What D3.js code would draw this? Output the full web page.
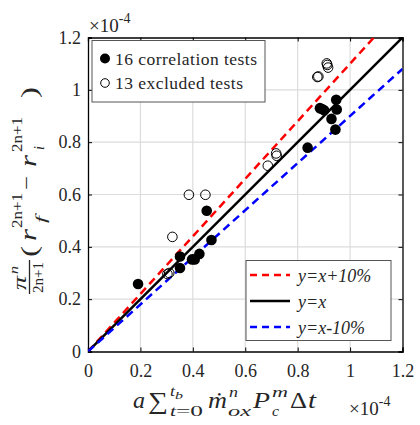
<!DOCTYPE html>
<html>
<head>
<meta charset="utf-8">
<script src="https://cdn.jsdelivr.net/npm/d3@7"></script>
<style>
  body { margin: 0; background: #fff; }
  svg text { font-family: "Liberation Serif", "DejaVu Serif", serif; }
</style>
</head>
<body>
<svg id="chart" width="420" height="425"></svg>
<script>
// values in units of 1e-4
const corrX = [0.191, 0.351, 0.351, 0.397, 0.407, 0.425, 0.471, 0.453, 0.838, 0.885, 0.901, 0.929, 0.944, 0.947, 0.949, 0.893];
const corrY = [0.258, 0.363, 0.319, 0.352, 0.352, 0.373, 0.426, 0.538, 0.779, 0.930, 0.922, 0.889, 0.848, 0.962, 0.925, 0.927];
const exclX = [0.303, 0.322, 0.385, 0.448, 0.686, 0.718, 0.879, 0.911, 0.916, 0.875, 0.720, 0.310, 0.913];
const exclY = [0.296, 0.438, 0.599, 0.599, 0.710, 0.757, 1.051, 1.101, 1.085, 1.049, 0.748, 0.300, 1.095];
const ticks = [0, 0.2, 0.4, 0.6, 0.8, 1, 1.2];
const refLines = [
  { label: "y=x+10%", k: 1.1, color: "#ff0000", dash: "8,5" },
  { label: "y=x", k: 1.0, color: "#000000", dash: null },
  { label: "y=x-10%", k: 0.9, color: "#0000ff", dash: "8,5" }
];

const svg = d3.select("#chart");
const m = { left: 88, top: 37.5, right: 402.5, bottom: 351.5 };
const ink = "#262626";

const x = d3.scaleLinear().domain([0, 1.2]).range([m.left, m.right]);
const y = d3.scaleLinear().domain([0, 1.2]).range([m.bottom, m.top]);

svg.append("defs").append("clipPath").attr("id", "clip")
  .append("rect")
    .attr("x", m.left).attr("y", m.top)
    .attr("width", m.right - m.left).attr("height", m.bottom - m.top);

// grid
const grid = svg.append("g").attr("stroke", "#dcdcdc").attr("stroke-width", 1.2);
grid.selectAll("line.gx").data(ticks.slice(1, -1)).join("line")
  .attr("class", "gx")
  .attr("x1", d => x(d)).attr("x2", d => x(d))
  .attr("y1", m.top).attr("y2", m.bottom);
grid.selectAll("line.gy").data(ticks.slice(1, -1)).join("line")
  .attr("class", "gy")
  .attr("y1", d => y(d)).attr("y2", d => y(d))
  .attr("x1", m.left).attr("x2", m.right);

// axes (MATLAB style, ticks inside, box on)
const fmt = d => d3.format("~g")(d);
svg.append("g").attr("transform", `translate(0,${m.bottom})`)
  .call(d3.axisBottom(x).tickValues(ticks).tickSize(-4).tickPadding(13).tickFormat(fmt));
svg.append("g").attr("transform", `translate(${m.left},0)`)
  .call(d3.axisLeft(y).tickValues(ticks).tickSize(-4).tickPadding(7).tickFormat(fmt));
svg.append("g").attr("transform", `translate(0,${m.top})`)
  .call(d3.axisTop(x).tickValues(ticks).tickSize(-4).tickFormat(""));
svg.append("g").attr("transform", `translate(${m.right},0)`)
  .call(d3.axisRight(y).tickValues(ticks).tickSize(-4).tickFormat(""));
svg.selectAll(".domain").attr("stroke", "#000").attr("stroke-width", 1.3);
svg.selectAll(".tick line").attr("stroke", "#000");
svg.selectAll(".tick text").attr("font-size", 18).attr("fill", ink);

// reference lines
const plot = svg.append("g").attr("clip-path", "url(#clip)");
plot.selectAll("line.ref").data(refLines).join("line")
  .attr("x1", x(0)).attr("y1", y(0))
  .attr("x2", x(1.2)).attr("y2", d => y(1.2 * d.k))
  .attr("stroke", d => d.color)
  .attr("stroke-width", 2.5)
  .attr("stroke-dasharray", d => d.dash);

// points
const corr = corrX.map((v, i) => [v, corrY[i]]);
const excl = exclX.map((v, i) => [v, exclY[i]]);
svg.append("g").selectAll("circle").data(excl).join("circle")
  .attr("cx", d => x(d[0])).attr("cy", d => y(d[1])).attr("r", 4.8)
  .attr("fill", "none").attr("stroke", "#000").attr("stroke-width", 1);
svg.append("g").selectAll("circle").data(corr).join("circle")
  .attr("cx", d => x(d[0])).attr("cy", d => y(d[1])).attr("r", 5.3)
  .attr("fill", "#000");

// legend 1
const lg1 = svg.append("g");
lg1.append("rect").attr("x", 92).attr("y", 40.5).attr("width", 173).attr("height", 61.5)
  .attr("fill", "#fff").attr("stroke", "#555").attr("stroke-width", 1);
lg1.append("circle").attr("cx", 105).attr("cy", 58.5).attr("r", 5).attr("fill", "#000");
lg1.append("circle").attr("cx", 105).attr("cy", 83).attr("r", 4.3).attr("fill", "#fff").attr("stroke", "#000");
lg1.append("text").attr("x", 115).attr("y", 64.5).attr("font-size", 17.5).attr("fill", ink)
  .attr("textLength", 142).text("16 correlation tests");
lg1.append("text").attr("x", 115).attr("y", 89).attr("font-size", 17.5).attr("fill", ink)
  .attr("textLength", 128).text("13 excluded tests");

// legend 2
const lg2 = svg.append("g");
lg2.append("rect").attr("x", 246).attr("y", 260.5).attr("width", 145).attr("height", 80)
  .attr("fill", "#fff").attr("stroke", "#555").attr("stroke-width", 1);
const items = lg2.selectAll("g").data(refLines).join("g")
  .attr("transform", (d, i) => `translate(0,${275 + i * 26})`);
items.append("line").attr("x1", 250).attr("x2", 290)
  .attr("stroke", d => d.color).attr("stroke-width", 2.5)
  .attr("stroke-dasharray", d => d.dash ? "7,5" : null);
items.append("text").attr("x", 298).attr("y", 7).attr("font-size", 18).attr("fill", ink)
  .attr("font-style", "italic").text(d => d.label);

// exponent labels
function expLabel(tx, ty) {
  const t = svg.append("text").attr("x", tx).attr("y", ty).attr("font-size", 19).attr("fill", ink);
  t.append("tspan").text("×10");
  t.append("tspan").attr("dy", -9).attr("font-size", 14).text("-4");
}
expLabel(89, 32);
expLabel(349, 415);

// piece of a formula: x0..x1 is its extent along the reading direction
function piece(g, str, x0, x1, base, size, italic) {
  return g.append("text")
    .attr("x", x0).attr("y", base)
    .attr("font-size", size)
    .attr("font-style", italic ? "italic" : "normal")
    .attr("fill", ink)
    .attr("textLength", x1 - x0).attr("lengthAdjust", "spacingAndGlyphs")
    .text(str);
}

// x label
const xg = svg.append("g");
piece(xg, "a", 133, 145, 408, 23, true);
piece(xg, "∑", 148, 168, 409, 24, false);
piece(xg, "t", 170, 175, 396, 14, true);
piece(xg, "b", 175, 183, 399, 11, true);
piece(xg, "t", 170, 176, 416, 15, true);
piece(xg, "=0", 176, 203, 416, 15, false);
piece(xg, "ṁ", 208, 227, 408, 23, true);
piece(xg, "n", 229, 238, 397, 14, true);
piece(xg, "ox", 228, 251, 416, 15, true);
piece(xg, "P", 253, 270, 408, 23, true);
piece(xg, "m", 272, 288, 397, 14, true);
piece(xg, "c", 272, 279, 416, 15, true);
piece(xg, "Δ", 290, 307, 408, 23, false);
piece(xg, "t", 308, 316, 408, 23, true);

// y label (rotated: local x = -page y, local y = page x)
const yg = svg.append("g").attr("transform", "rotate(-90)");
piece(yg, "π", -290, -276, 26, 18, true);
piece(yg, "n", -274, -266, 18, 13, true);
yg.append("line").attr("x1", -294).attr("x2", -260).attr("y1", 29.5).attr("y2", 29.5)
  .attr("stroke", ink).attr("stroke-width", 1.3);
piece(yg, "2n+1", -293, -262, 43, 14, false);
piece(yg, "(", -257, -246, 37, 23, false);
piece(yg, "r", -241, -229, 36, 23, true);
piece(yg, "2n+1", -228, -193, 22, 15, false);
piece(yg, "f", -223, -216, 46, 15, true);
piece(yg, "−", -190, -176, 33, 20, false);
piece(yg, "r", -167, -155, 36, 23, true);
piece(yg, "2n+1", -152, -117, 22, 15, false);
piece(yg, "i", -150, -146, 44, 15, true);
piece(yg, ")", -98, -87, 37, 23, false);
</script>
</body>
</html>
